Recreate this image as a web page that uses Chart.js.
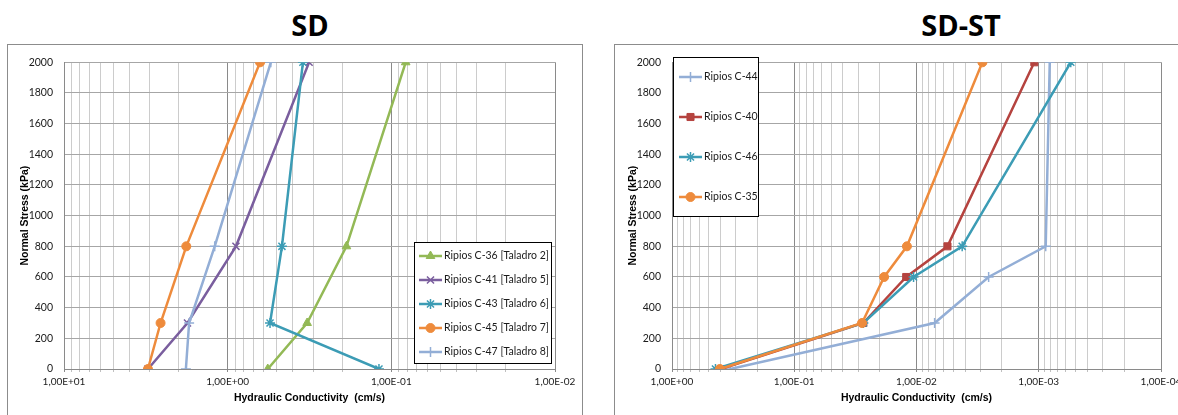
<!DOCTYPE html>
<html>
<head>
<meta charset="utf-8">
<script src="https://cdn.jsdelivr.net/npm/chart.js@4"></script>
<style>
  html, body { margin: 0; padding: 0; background: #fff; }
  body { width: 1178px; height: 415px; overflow: hidden; position: relative; }
  .title { position: absolute; top: 5px; font: 700 29px "Open Sans", sans-serif; color: #000; text-align: center; width: 200px; line-height: 40px; }
  .box { position: absolute; top: 44px; border: 1px solid #8c8c8c; background: #fff; }
  .box canvas { position: absolute; left: 0; top: 0; }
</style>
</head>
<body>
<div class="title" style="left:210px">SD</div>
<div class="title" style="left:861px">SD-ST</div>
<div class="box" style="left:7px;width:574px;height:420px"><canvas id="chartSD" width="574" height="370"></canvas></div>
<div class="box" style="left:614px;width:600px;height:420px"><canvas id="chartSDST" width="600" height="370"></canvas></div>
<script>
// normal stress levels (kPa)
const stressSD = [0, 300, 800, 2000];
const stressSDST = [0, 300, 600, 800, 2000];

// SD: hydraulic conductivity (cm/s)
const c36 = [0.569, 0.327, 0.188, 0.0817];
const c41 = [3.07, 1.76, 0.89, 0.318];
const c43 = [0.119, 0.551, 0.466, 0.347];
const c45 = [3.07, 2.57, 1.79, 0.634];
const c47 = [1.80, 1.72, 1.20, 0.545];

// SD-ST: hydraulic conductivity (cm/s)
const c44 = [0.334, 0.00711, 0.00257, 0.000877, 0.000813];
const c40 = [0.398, 0.0272, 0.01214, 0.00558, 0.001087];
const c46 = [0.441, 0.0272, 0.01057, 0.00423, 0.000547];
const c35 = [0.406, 0.0279, 0.0184, 0.01198, 0.00289];

const decadesSD = [0.01, 0.1, 1, 10];
const decadesSDST = [0.0001, 0.001, 0.01, 0.1, 1];
const stressTicks = [0, 200, 400, 600, 800, 1000, 1200, 1400, 1600, 1800, 2000];

const labelsSD = ['Ripios C-36 [Taladro 2]', 'Ripios C-41 [Taladro 5]', 'Ripios C-43 [Taladro 6]', 'Ripios C-45 [Taladro 7]', 'Ripios C-47 [Taladro 8]'];
const labelsSDST = ['Ripios C-44', 'Ripios C-40', 'Ripios C-46', 'Ripios C-35'];

const GREEN = '#93b956', PURPLE = '#7a5e9e', TEAL = '#3c9cb5', ORANGE = '#ee8b3c', LBLUE = '#93aed6', RED = '#b5433f';

function isDecade(v) {
    const l = Math.log10(v);
    return Math.abs(l - Math.round(l)) < 1e-9;
}

function sciLabel(v) {
    const e = Math.round(Math.log10(v));
    const m = (v / Math.pow(10, e)).toFixed(2).replace('.', ',');
    return m + 'E' + (e < 0 ? '-' : '+') + String(Math.abs(e)).padStart(2, '0');
}

function logTicks(decades) {
    const out = [];
    for (let i = 0; i < decades.length - 1; i++) {
        for (let k = 1; k <= 9; k++) out.push({ value: +(k * decades[i]).toPrecision(6) });
    }
    out.push({ value: decades[decades.length - 1] });
    return out;
}

function makeSeries(label, xs, ys, color, style, radius) {
    return {
        label: label,
        data: xs.map((x, i) => ({ x: x, y: ys[i] })),
        borderColor: color,
        backgroundColor: color,
        borderWidth: 2.5,
        pointStyle: style,
        pointRadius: radius,
        pointBorderWidth: style === 'circle' || style === 'rect' || style === 'triangle' ? 1 : 1.5,
        tension: 0
    };
}

// legend drawn inside the plot, like the spreadsheet original
const boxLegend = {
    id: 'boxLegend',
    afterDraw(chart, args, opts) {
        const ctx = chart.ctx;
        ctx.save();
        ctx.fillStyle = '#fff';
        ctx.fillRect(opts.x, opts.y, opts.w, opts.h);
        ctx.strokeStyle = '#000';
        ctx.lineWidth = 1;
        ctx.strokeRect(opts.x + 0.5, opts.y + 0.5, opts.w, opts.h);
        chart.data.datasets.forEach((ds, i) => {
            const y = opts.firstY + i * opts.step;
            ctx.strokeStyle = ds.borderColor;
            ctx.lineWidth = 2.5;
            ctx.beginPath();
            ctx.moveTo(opts.lineX, y);
            ctx.lineTo(opts.lineX + opts.lineW, y);
            ctx.stroke();
            ctx.fillStyle = ds.backgroundColor;
            ctx.lineWidth = ds.pointBorderWidth;
            Chart.helpers.drawPoint(ctx, { pointStyle: ds.pointStyle, radius: ds.pointRadius, rotation: 0, borderWidth: ds.pointBorderWidth }, opts.lineX + opts.lineW / 2, y);
            ctx.fillStyle = '#1a1a1a';
            ctx.font = opts.font;
            ctx.textBaseline = 'middle';
            ctx.textAlign = 'left';
            ctx.fillText(ds.label, opts.lineX + opts.lineW + 2, y);
        });
        ctx.restore();
    }
};

function buildChart(id, datasets, decades, geo, legend) {
    const ctx = document.getElementById(id).getContext('2d');
    datasets.forEach((d, i) => { d.order = datasets.length - i; });
    return new Chart(ctx, {
        type: 'line',
        data: { datasets: datasets },
        plugins: [boxLegend],
        options: {
            responsive: false,
            animation: false,
            layout: { padding: { top: geo.top, left: 0, right: geo.right, bottom: geo.bottom } },
            scales: {
                x: {
                    type: 'logarithmic',
                    reverse: true,
                    min: decades[0],
                    max: decades[decades.length - 1],
                    afterBuildTicks: (scale) => { scale.ticks = logTicks(decades); },
                    afterFit: (scale) => { scale.height = 35.3; },
                    grid: {
                        color: (c) => (c.tick && isDecade(c.tick.value)) ? '#8a8a8a' : '#cccccc',
                        tickColor: (c) => (c.tick && isDecade(c.tick.value)) ? '#8a8a8a' : '#c0c0c0',
                        tickLength: 3,
                        lineWidth: 1
                    },
                    border: { color: '#8a8a8a' },
                    ticks: {
                        autoSkip: false,
                        maxRotation: 0,
                        minRotation: 0,
                        padding: 4,
                        color: '#1a1a1a',
                        font: { family: 'Lato', size: 10 },
                        callback: (v) => isDecade(v) ? sciLabel(v) : ''
                    },
                    title: {
                        display: true,
                        text: 'Hydraulic Conductivity  (cm/s)',
                        color: '#000',
                        padding: 0,
                        font: { family: 'Liberation Sans', size: 10.5, weight: 'bold', lineHeight: 1.2 }
                    }
                },
                y: {
                    type: 'linear',
                    min: 0,
                    max: 2000,
                    afterBuildTicks: (scale) => { scale.ticks = stressTicks.map(v => ({ value: v })); },
                    afterFit: (scale) => { scale.width = geo.yw; },
                    grid: { color: '#a6a6a6', drawTicks: false, lineWidth: 1 },
                    border: { color: '#8a8a8a' },
                    ticks: {
                        padding: 11,
                        color: '#1a1a1a',
                        font: { family: 'Lato', size: 10.5 },
                        callback: (v) => String(v)
                    },
                    title: {
                        display: true,
                        text: 'Normal Stress (kPa)',
                        color: '#000',
                        padding: { top: geo.ytp, bottom: 0 },
                        font: { family: 'Liberation Sans', size: 10.5, weight: 'bold', lineHeight: 1.2 }
                    }
                }
            },
            plugins: {
                legend: { display: false },
                tooltip: { enabled: false },
                boxLegend: legend
            }
        }
    });
}

buildChart('chartSD', [
    makeSeries(labelsSD[0], c36, stressSD, GREEN, 'triangle', 5),
    makeSeries(labelsSD[1], c41, stressSD, PURPLE, 'crossRot', 5),
    makeSeries(labelsSD[2], c43, stressSD, TEAL, 'star', 5),
    makeSeries(labelsSD[3], c45, stressSD, ORANGE, 'circle', 4.5),
    makeSeries(labelsSD[4], c47, stressSD, LBLUE, 'cross', 5)
], decadesSD, { top: 13, right: 27, bottom: 10.7, yw: 56, ytp: 11 },
   { x: 406, y: 197, w: 137, h: 121, firstY: 211, step: 24, lineX: 411, lineW: 23, font: '10.5px Lato' });

buildChart('chartSDST', [
    makeSeries(labelsSDST[0], c44, stressSDST, LBLUE, 'cross', 5),
    makeSeries(labelsSDST[1], c40, stressSDST, RED, 'rect', 5),
    makeSeries(labelsSDST[2], c46, stressSDST, TEAL, 'star', 5),
    makeSeries(labelsSDST[3], c35, stressSDST, ORANGE, 'circle', 4.5)
], decadesSDST, { top: 14, right: 54, bottom: 10.7, yw: 57, ytp: 12 },
   { x: 58, y: 12, w: 85, h: 159, firstY: 32, step: 40, lineX: 64, lineW: 23, font: '10.5px Lato' });
</script>
</body>
</html>
